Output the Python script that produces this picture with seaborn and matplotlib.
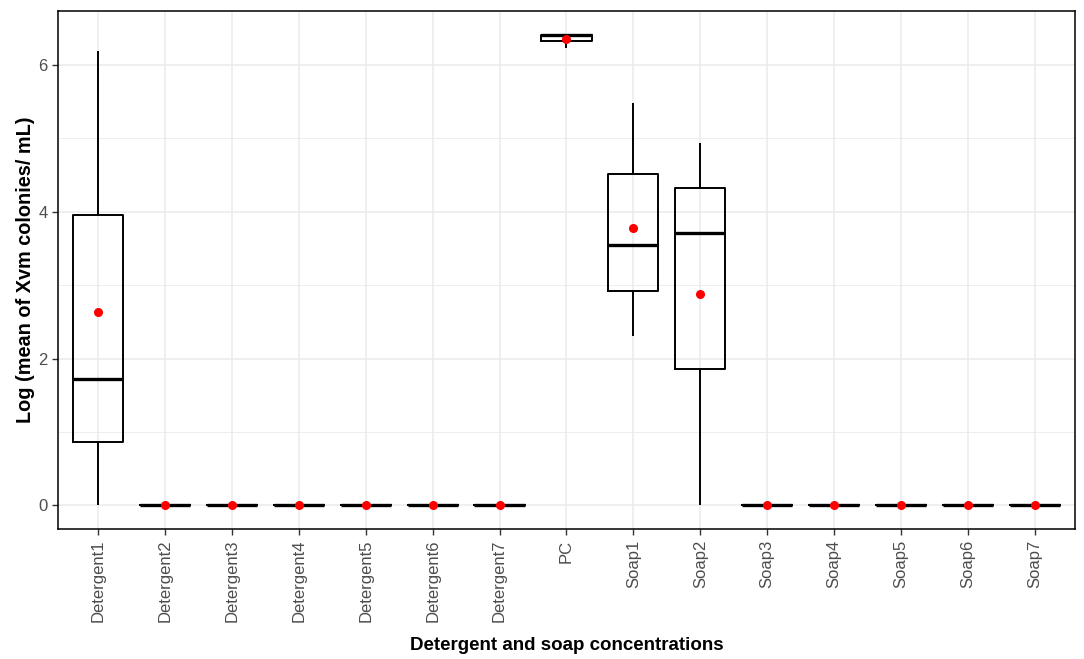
import pandas as pd
import matplotlib
matplotlib.use("Agg")
import matplotlib.pyplot as plt
from matplotlib.ticker import MultipleLocator
import seaborn as sns

# 세 번 반복 측정값 (log 값)
groups = ["Detergent1", "Detergent2", "Detergent3", "Detergent4", "Detergent5",
          "Detergent6", "Detergent7", "PC", "Soap1", "Soap2", "Soap3", "Soap4",
          "Soap5", "Soap6", "Soap7"]
detergent1 = [0.0, 1.72, 6.18]
pc = [6.23, 6.41, 6.41]
soap1 = [2.31, 3.54, 5.48]
soap2 = [0.0, 3.71, 4.93]
zero = [0.0, 0.0, 0.0]

values = {g: zero for g in groups}
values["Detergent1"] = detergent1
values["PC"] = pc
values["Soap1"] = soap1
values["Soap2"] = soap2

rows = [(g, v) for g in groups for v in values[g]]
df = pd.DataFrame(rows, columns=["group", "value"])

sns.set_style("whitegrid")
plt.rcParams["font.family"] = ["Liberation Sans", "DejaVu Sans"]

fig = plt.figure(figsize=(10.84, 6.59), dpi=100)
ax = fig.add_axes([0.0535, 0.1973, 0.9382, 0.786])

sns.boxplot(
    data=df, x="group", y="value", order=groups, ax=ax,
    width=0.75, fill=False, color="black", linewidth=1.4,
    showcaps=False, showfliers=False, whis=1.5,
    medianprops={"linewidth": 2.4, "color": "black"},
    showmeans=True,
    meanprops={"marker": "o", "markerfacecolor": "red", "markeredgecolor": "red",
               "markersize": 5.5},
)

ax.set_xlim(-0.6, len(groups) - 0.4)
ax.set_ylim(-0.32, 6.73)
ax.set_yticks([0, 2, 4, 6])
ax.yaxis.set_minor_locator(MultipleLocator(1))

ax.grid(True, which="major", color="#EBEBEB", linewidth=1.1)
ax.grid(True, which="minor", axis="y", color="#EBEBEB", linewidth=0.6)
ax.set_axisbelow(True)

for s in ax.spines.values():
    s.set_visible(True)
    s.set_color("black")
    s.set_linewidth(1.1)

ax.tick_params(axis="both", which="major", length=4, width=1, color="#333333",
               labelsize=12, labelcolor="#4D4D4D", left=True, bottom=True)
ax.tick_params(axis="y", which="minor", length=0)
plt.setp(ax.get_xticklabels(), rotation=90)

ax.set_xlabel("Detergent and soap concentrations", fontsize=13.5, fontweight="bold",
              color="black", labelpad=11)
ax.set_ylabel("Log (mean of Xvm colonies/ mL)", fontsize=14.3, fontweight="bold",
              color="black", labelpad=2)

fig.savefig("out.png", dpi=100)
